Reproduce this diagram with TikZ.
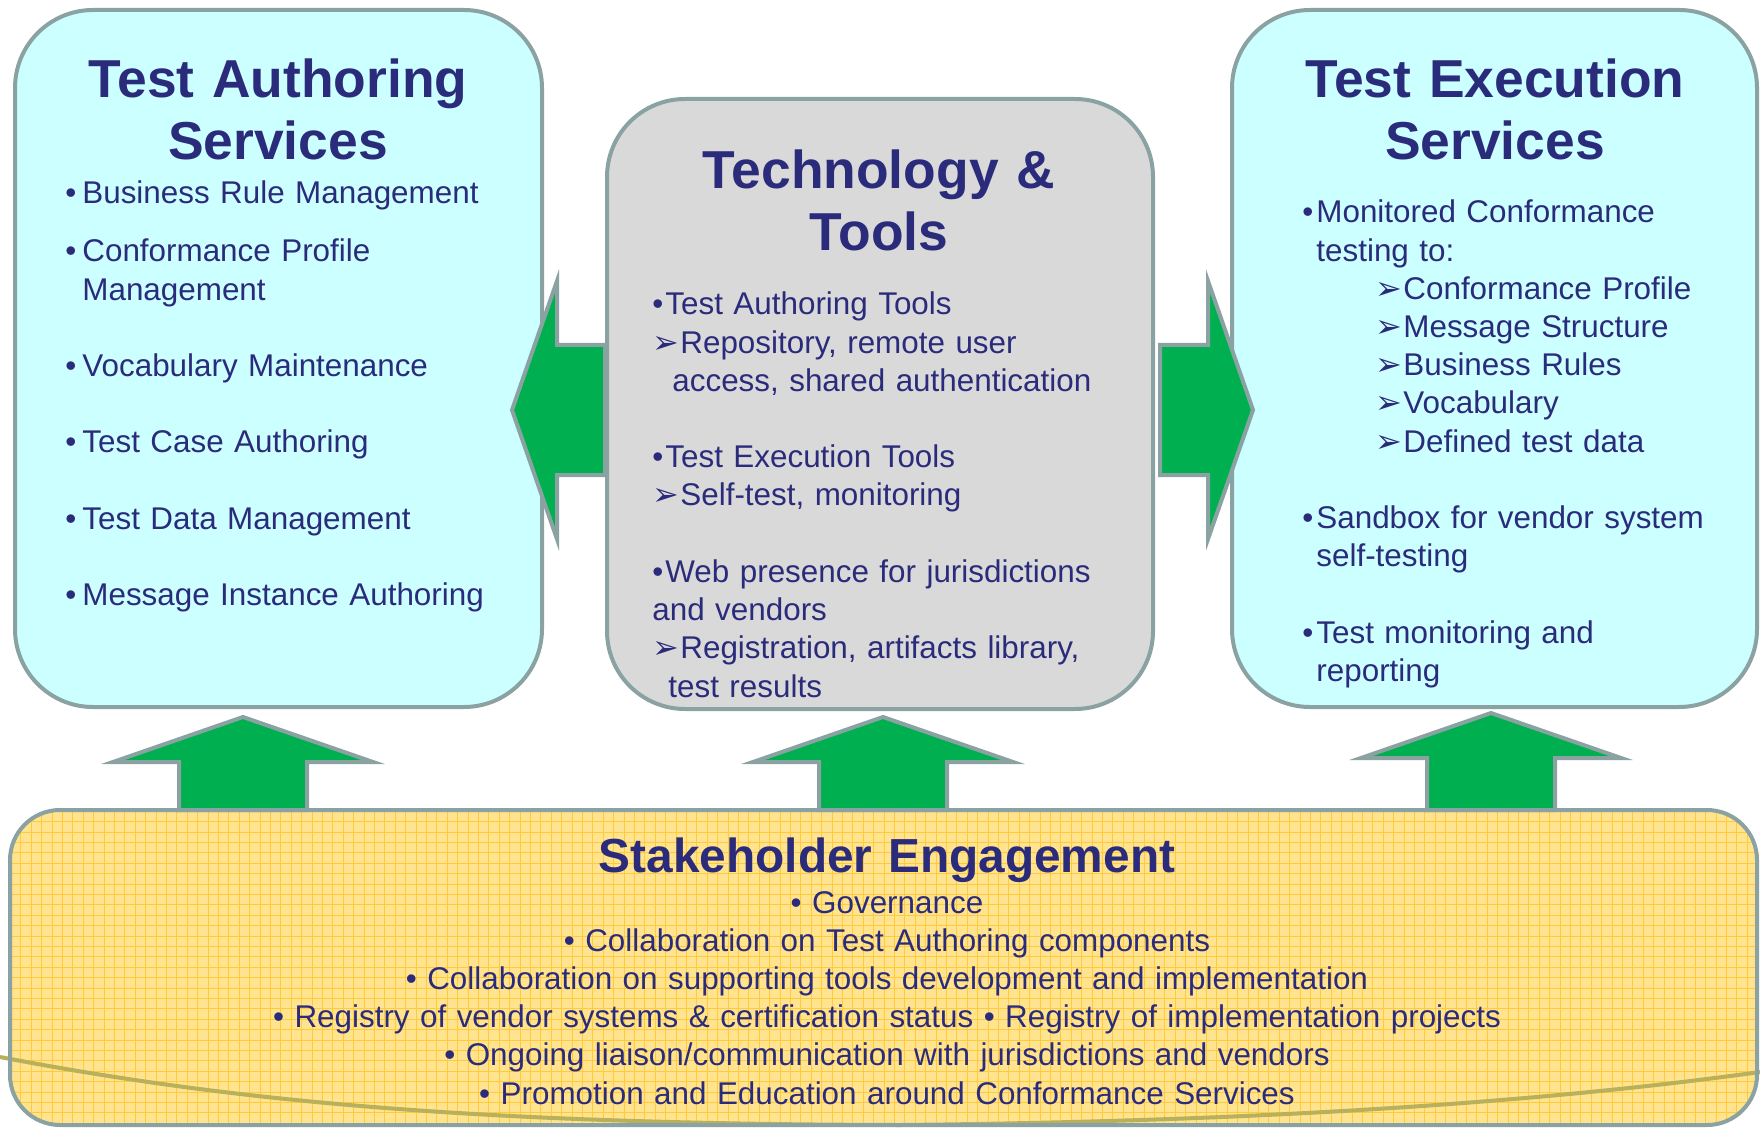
\documentclass[tikz,border=0pt]{standalone}
\usepackage{fontspec}
\setmainfont{Liberation Sans}
\newfontfamily\dingfont{DejaVu Sans}
\usepackage{xcolor}
\definecolor{boxline}{HTML}{8AA2A2}
\definecolor{skyfill}{HTML}{CCFFFF}
\definecolor{toolfill}{HTML}{D9D9D9}
\definecolor{arrowgreen}{HTML}{00B050}
\definecolor{sandfill}{HTML}{FFE38F}
\definecolor{sandgrid}{HTML}{FFC72C}
\definecolor{navytext}{HTML}{2B2B7B}
\definecolor{olivecurve}{HTML}{B8B05A}
\newcommand{\itembul}[1]{\makebox[#1][l]{\textbullet}}
\newcommand{\itemtip}{\makebox[14pt][l]{\dingfont\fontsize{16}{16}\selectfont ➢}}
\tikzset{
    rounded-box/.style = {draw=boxline, line width=2pt, rounded corners=39pt},
    block-arrow/.style = {draw=boxline, fill=arrowgreen, line width=2pt},
    box-title/.style = {text=navytext, font=\fontsize{26.7}{31}\selectfont\bfseries, align=center, text width=260pt, inner sep=0pt, anchor=base},
    box-list/.style = {text=navytext, font=\fontsize{15.7}{19.1}\selectfont, align=left, inner sep=0pt, anchor=base west},
}

\begin{document}
\begin{tikzpicture}[x=0.5pt, y=-0.5pt]
\useasboundingbox (0,0) rectangle (1760,1128);

% stakeholder panel
\begin{scope}
\clip[rounded corners=25pt] (10,810) rectangle (1757,1125);
\fill[sandfill] (10,810) rectangle (1757,1125);
\draw[sandgrid!85!sandfill, line width=0.5pt, step=5.2pt] (10,810) grid (1757,1125);
\end{scope}
\draw[olivecurve, line width=2pt] (0,1057) .. controls (250,1105) and (500,1124) .. (900,1125) .. controls (1200,1122) and (1500,1108) .. (1760,1072);
\draw[rounded-box, rounded corners=25pt] (10,810) rectangle (1757,1125);

% service panels
\draw[rounded-box, fill=skyfill] (15,10) rectangle (542,707);
\draw[rounded-box, fill=toolfill] (607,99) rectangle (1153,709);
\draw[rounded-box, fill=skyfill] (1232,10) rectangle (1757,707);

% arrows
\draw[block-arrow] (512,410) -- (557,281) -- (557,345) -- (605,345) -- (605,475) -- (557,475) -- (557,539) -- cycle;
\draw[block-arrow] (1253,410) -- (1208,281) -- (1208,345) -- (1160,345) -- (1160,475) -- (1208,475) -- (1208,539) -- cycle;
\foreach \cx/\dy in {243/0, 883/0, 1491/-4}
  \draw[block-arrow] (\cx,717+\dy) -- (\cx+130,762+\dy) -- (\cx+64,762+\dy) -- (\cx+64,810) -- (\cx-64,810) -- (\cx-64,762+\dy) -- (\cx-130,762+\dy) -- cycle;

% texts
\node[box-title] (authtitle) at (278,98) {Test Authoring\\Services};
\node[box-list, text width=235pt] (authlist) at (65,204) {%
  \itembul{8.5pt}Business Rule Management\\[9.9pt]
  \itembul{8.5pt}Conformance Profile\\
  \hspace*{8.5pt}Management\\[19.1pt]
  \itembul{8.5pt}Vocabulary Maintenance\\[19.1pt]
  \itembul{8.5pt}Test Case Authoring\\[19.1pt]
  \itembul{8.5pt}Test Data Management\\[19.1pt]
  \itembul{8.5pt}Message Instance Authoring};

\node[box-title] (tooltitle) at (879,189) {Technology \&\\Tools};
\node[box-list, text width=248pt] (toollist) at (652,315) {%
  \itembul{6.5pt}Test Authoring Tools\\
  \itemtip Repository, remote user\\
  \hspace*{10pt}access, shared authentication\\[19.1pt]
  \itembul{6.5pt}Test Execution Tools\\
  \itemtip Self-test, monitoring\\[19.1pt]
  \itembul{6.5pt}Web presence for jurisdictions\\
  and vendors\\
  \itemtip Registration, artifacts library,\\
  \hspace*{8pt}test results};

\node[box-title] (exectitle) at (1495,98) {Test Execution\\Services};
\node[box-list, text width=215pt] (execlist) at (1302,223) {%
  \itembul{7pt}Monitored Conformance\\
  \hspace*{7pt}testing to:\\
  \hspace*{36.5pt}\itemtip Conformance Profile\\
  \hspace*{36.5pt}\itemtip Message Structure\\
  \hspace*{36.5pt}\itemtip Business Rules\\
  \hspace*{36.5pt}\itemtip Vocabulary\\
  \hspace*{36.5pt}\itemtip Defined test data\\[19.1pt]
  \itembul{7pt}Sandbox for vendor system\\
  \hspace*{7pt}self-testing\\[19.1pt]
  \itembul{7pt}Test monitoring and\\
  \hspace*{7pt}reporting};

\node[box-title, font=\fontsize{23.9}{28}\selectfont\bfseries, text width=700pt] (staketitle) at (887,872) {Stakeholder Engagement};
\node[box-list, align=center, anchor=base, text width=800pt] (stakelist) at (887,913) {%
  \textbullet\ Governance\\
  \textbullet\ Collaboration on Test Authoring components\\
  \textbullet\ Collaboration on supporting tools development and implementation\\
  \textbullet\ Registry of vendor systems \& certification status \textbullet\ Registry of implementation projects\\
  \textbullet\ Ongoing liaison/communication with jurisdictions and vendors\\
  \textbullet\ Promotion and Education around Conformance Services};
\end{tikzpicture}
\end{document}
